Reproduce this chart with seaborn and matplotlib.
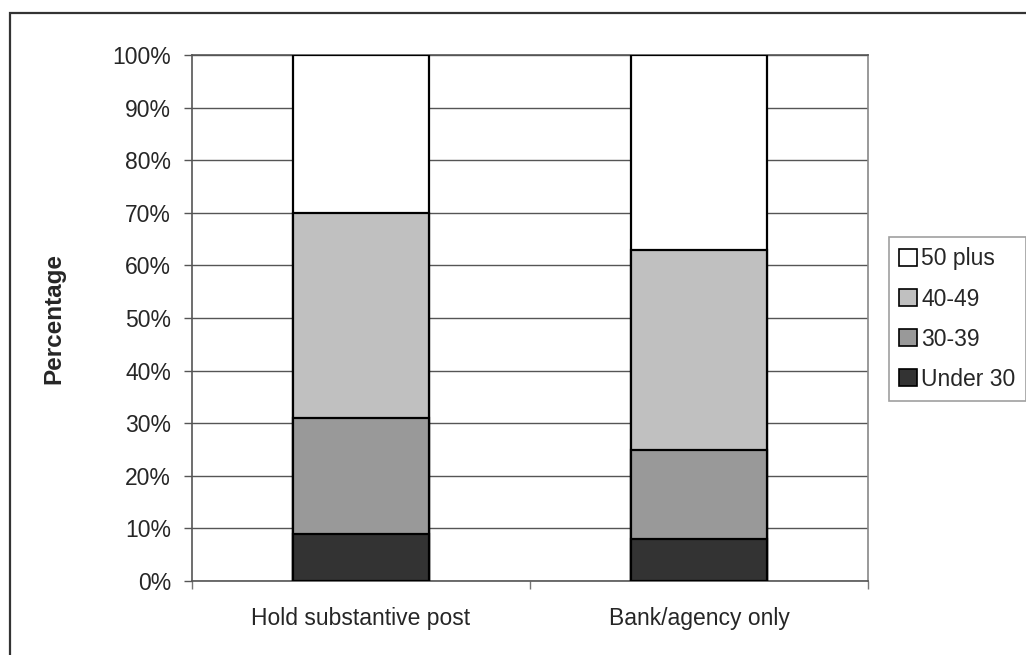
import matplotlib
matplotlib.use("Agg")
import matplotlib.pyplot as plt
from matplotlib.patches import Patch, Rectangle
import numpy as np
import pandas as pd
import seaborn as sns

# Age-group shares (%) of each employment group
categories = ["Hold substantive post", "Bank/agency only"]
under_30 = [9, 8]
age_30_39 = [22, 17]
age_40_49 = [39, 38]
age_50_plus = [30, 37]

series_names = ["Under 30", "30-39", "40-49", "50 plus"]
series_colors = ["#333333", "#999999", "#c0c0c0", "#ffffff"]
y_ticks = [0, 10, 20, 30, 40, 50, 60, 70, 80, 90, 100]

sns.set_theme(style="white")
plt.rcParams["font.family"] = ["Liberation Sans", "DejaVu Sans"]

fig = plt.figure(figsize=(10.26, 6.55), dpi=100)
ax = fig.add_axes([192 / 1026, 1 - 581 / 655, (868 - 192) / 1026, (581 - 55) / 655])

# cumulative tops, drawn from the tallest segment down so each sits on the one below
values = np.array([under_30, age_30_39, age_40_49, age_50_plus], dtype=float)
cumulative = np.cumsum(values, axis=0)
for name, color, tops in reversed(list(zip(series_names, series_colors, cumulative))):
    df = pd.DataFrame({"group": categories, "pct": tops})
    sns.barplot(data=df, x="group", y="pct", order=categories, color=color,
                saturation=1, width=0.4, edgecolor="black", linewidth=1.6,
                ax=ax, zorder=3)

ax.set_xlim(-0.5, 1.5)
ax.set_ylim(0, 100)
ax.set_yticks(y_ticks)
ax.set_yticklabels([f"{t}%" for t in y_ticks], fontsize=16.5)
ax.yaxis.grid(True, color="#555555", linewidth=1, zorder=0)
ax.xaxis.grid(False)
ax.set_axisbelow(True)

ax.set_xticks([0, 1])
ax.set_xticklabels(categories, fontsize=16.5)
ax.set_xticks([-0.5, 0.5, 1.5], minor=True)
ax.tick_params(axis="x", which="major", length=0, pad=19)
ax.tick_params(axis="x", which="minor", length=6, width=1, color="#777777", direction="out", bottom=True)
ax.tick_params(axis="y", length=6, width=1, color="#555555", direction="out", left=True, pad=9)
ax.set_xlabel("")
ax.set_ylabel("")

for side, col in [("left", "#555555"), ("bottom", "#555555"), ("right", "#888888"), ("top", "#555555")]:
    ax.spines[side].set_visible(True)
    ax.spines[side].set_color(col)
    ax.spines[side].set_linewidth(1.2)

fig.text(54 / 1026, 1 - 318 / 655, "Percentage", rotation=90, ha="center", va="center",
         fontsize=17.5, fontweight="bold")

handles = [Patch(facecolor=c, edgecolor="black", linewidth=1.2, label=n)
           for n, c in zip(series_names, series_colors)][::-1]
leg = fig.legend(handles=handles, loc="upper left",
                 bbox_to_anchor=(889 / 1026, 1 - 237 / 655), bbox_transform=fig.transFigure,
                 fontsize=16.5, frameon=True, fancybox=False, borderaxespad=0,
                 handlelength=0.75, handleheight=0.75, handletextpad=0.2,
                 labelspacing=0.75, borderpad=0.45)
leg.get_frame().set_edgecolor("#888888")
leg.get_frame().set_linewidth(1.2)

# chart border
fig.patches.append(Rectangle((10 / 1026, -0.1), 1.2, 1 - 13 / 655 + 0.1,
                             transform=fig.transFigure, fill=False,
                             edgecolor="#333333", linewidth=1.6, zorder=0))

fig.savefig("out.png", dpi=100, facecolor="white")
